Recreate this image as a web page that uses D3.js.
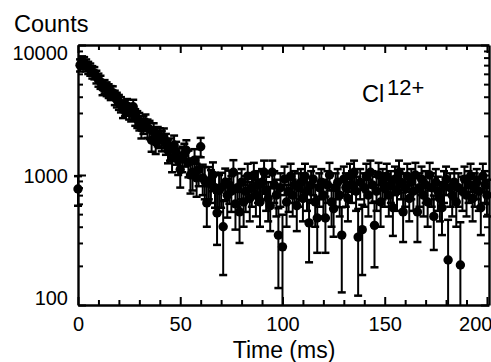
<!DOCTYPE html>
<html>
<head>
<meta charset="utf-8">
<script src="https://cdn.jsdelivr.net/npm/d3@7"></script>
<style>
  body { margin: 0; background: #fff; }
  svg { display: block; font-family: "Liberation Sans", Arial, sans-serif; }
</style>
</head>
<body>
<div class="chart"></div>
<script>
const width = 491;
const height = 362;
const margin = { top: 45, bottom: 57, left: 78, right: 2 };

// counts per 1 ms bin, t = 0 .. 200 ms
const counts = [
  780, 7000, 7400, 7300, 7000, 6700, 6500, 6200, 6100, 5700,
  5400, 5200, 4700, 4800, 4600, 4450, 4300, 4300, 3950, 3800,
  3650, 3500, 3200, 3300, 3400, 3100, 3000, 3350, 2800, 2700,
  2600, 2300, 2450, 2550, 2300, 2250, 1850, 2150, 1800, 2000,
  1950, 1850, 1950, 1750, 1550, 1600, 1350, 1700, 1500, 1300,
  1100, 1350, 1450, 1550, 1250, 1000, 1050, 1300, 950, 1100,
  1650, 950, 900, 610, 900, 850, 1000, 800, 510, 760,
  800, 400, 880, 700, 840, 750, 1050, 600, 800, 520,
  880, 620, 750, 980, 660, 800, 1000, 700, 840, 620,
  880, 1050, 750, 660, 580, 1050, 840, 700, 345, 800,
  280, 930, 620, 750, 980, 700, 840, 580, 800, 880,
  660, 980, 750, 428, 840, 930, 620, 467, 800, 880,
  700, 467, 840, 1000, 620, 550, 800, 880, 700, 345,
  930, 800, 660, 980, 840, 1050, 750, 333, 880, 380,
  800, 980, 700, 1050, 840, 410, 750, 1000, 620, 880,
  800, 980, 700, 840, 560, 930, 750, 1050, 880, 520,
  800, 980, 660, 880, 750, 1000, 520, 800, 930, 700,
  840, 620, 1000, 800, 480, 880, 750, 660, 560, 840,
  930, 222, 800, 700, 880, 620, 800, 203, 750, 930,
  700, 840, 980, 660, 800, 880, 750, 560, 980, 840,
  700
];

const errors = [
  200, 750, 780, 770, 740, 720, 700, 680, 660, 640,
  620, 600, 590, 570, 560, 540, 530, 510, 500, 490,
  480, 470, 460, 450, 440, 430, 420, 440, 410, 400,
  400, 390, 380, 370, 370, 360, 340, 350, 350, 340,
  340, 330, 330, 320, 320, 310, 300, 310, 300, 300,
  300, 300, 290, 300, 290, 280, 290, 280, 270, 280,
  280, 250, 250, 210, 250, 240, 250, 240, 220, 240,
  240, 230, 240, 230, 240, 230, 250, 220, 230, 220,
  230, 220, 230, 240, 220, 230, 240, 220, 230, 220,
  230, 240, 220, 220, 210, 240, 230, 220, 210, 230,
  215, 230, 220, 230, 240, 220, 230, 210, 230, 230,
  220, 240, 220, 215, 230, 230, 220, 215, 230, 230,
  220, 215, 230, 240, 220, 215, 230, 230, 220, 220,
  230, 230, 220, 240, 230, 240, 220, 215, 230, 210,
  230, 240, 220, 240, 230, 215, 220, 240, 220, 230,
  230, 240, 220, 230, 220, 230, 220, 240, 230, 215,
  230, 240, 220, 230, 220, 240, 215, 230, 230, 220,
  230, 220, 240, 230, 215, 230, 220, 220, 215, 230,
  230, 230, 230, 220, 230, 220, 230, 230, 220, 230,
  220, 230, 240, 220, 230, 230, 220, 215, 240, 230,
  220
];

const times = d3.range(counts.length); // ms
const xMajor = [0, 50, 100, 150, 200];
const xMinor = [10, 20, 30, 40, 60, 70, 80, 90, 110, 120, 130, 140, 160, 170, 180, 190];
const yMajor = [100, 1000, 10000];
const yMinor = [200, 300, 400, 500, 600, 700, 800, 900, 2000, 3000, 4000, 5000, 6000, 7000, 8000, 9000];

const data = times.map((t, i) => ({ t: t, v: counts[i], e: errors[i] }));

const xScale = d3.scaleLinear()
    .domain([0, 201])
    .range([margin.left, width - margin.right]);

const yScale = d3.scaleLog()
    .domain([100, 10000])
    .range([height - margin.bottom, margin.top])
    .clamp(true);

const svg = d3.select("div.chart")
    .append("svg")
    .attr("width", width)
    .attr("height", height);

// error bars
const bars = svg.append("g")
    .attr("class", "errors")
    .attr("stroke", "#000")
    .attr("stroke-width", 2);

bars.selectAll("line.bar")
    .data(data)
    .join("line")
    .attr("class", "bar")
    .attr("x1", d => xScale(d.t))
    .attr("x2", d => xScale(d.t))
    .attr("y1", d => yScale(Math.max(d.v - d.e, 1)))
    .attr("y2", d => yScale(d.v + d.e));

// caps (lower cap dropped when the bar runs off the axis)
bars.selectAll("line.capHi")
    .data(data)
    .join("line")
    .attr("class", "capHi")
    .attr("x1", d => xScale(d.t) - 4)
    .attr("x2", d => xScale(d.t) + 4)
    .attr("y1", d => yScale(d.v + d.e))
    .attr("y2", d => yScale(d.v + d.e))
    .attr("stroke-width", 2.5);

bars.selectAll("line.capLo")
    .data(data.filter(d => d.v - d.e > 100))
    .join("line")
    .attr("class", "capLo")
    .attr("x1", d => xScale(d.t) - 4)
    .attr("x2", d => xScale(d.t) + 4)
    .attr("y1", d => yScale(d.v - d.e))
    .attr("y2", d => yScale(d.v - d.e))
    .attr("stroke-width", 2.5);

// points
svg.append("g")
    .attr("class", "points")
    .attr("fill", "#000")
    .selectAll("circle")
    .data(data)
    .join("circle")
    .attr("cx", d => xScale(d.t))
    .attr("cy", d => yScale(d.v))
    .attr("r", 4.7);

// axes, ticks pointing inward on all four sides
const x0 = margin.left;
const x1 = width - margin.right;
const y0 = height - margin.bottom;
const y1 = margin.top;

function styleAxis(g) {
    g.select(".domain").attr("stroke-width", 2.4);
    g.selectAll(".tick line").attr("stroke-width", 2);
    g.selectAll("text").attr("fill", "#000").attr("font-size", 20);
}

// bottom
svg.append("g")
    .attr("transform", `translate(0,${y0})`)
    .call(d3.axisBottom(xScale).tickValues(xMajor).tickSize(-8).tickSizeOuter(0).tickPadding(12))
    .call(styleAxis)
    .call(g => g.selectAll(".tick text").filter(d => d === 200)
        .attr("text-anchor", "end").attr("x", 5));
svg.append("g")
    .attr("transform", `translate(0,${y0})`)
    .call(d3.axisBottom(xScale).tickValues(xMinor).tickSize(-5).tickFormat("").tickSizeOuter(0))
    .call(styleAxis)
    .call(g => g.select(".domain").remove());

// top
svg.append("g")
    .attr("transform", `translate(0,${y1})`)
    .call(d3.axisTop(xScale).tickValues(xMajor).tickSize(-8).tickFormat("").tickSizeOuter(0))
    .call(styleAxis);
svg.append("g")
    .attr("transform", `translate(0,${y1})`)
    .call(d3.axisTop(xScale).tickValues(xMinor).tickSize(-5).tickFormat("").tickSizeOuter(0))
    .call(styleAxis)
    .call(g => g.select(".domain").remove());

// left
const yLabelShift = { 100: -7, 1000: 1, 10000: 8 };
svg.append("g")
    .attr("transform", `translate(${x0},0)`)
    .call(d3.axisLeft(yScale).tickValues(yMajor).tickFormat(d3.format("d")).tickSize(-8).tickSizeOuter(0).tickPadding(10))
    .call(styleAxis)
    .call(g => g.selectAll(".tick text").attr("y", d => yLabelShift[d]));
svg.append("g")
    .attr("transform", `translate(${x0},0)`)
    .call(d3.axisLeft(yScale).tickValues(yMinor).tickSize(-5).tickFormat("").tickSizeOuter(0))
    .call(styleAxis)
    .call(g => g.select(".domain").remove());

// right
svg.append("g")
    .attr("transform", `translate(${x1},0)`)
    .call(d3.axisRight(yScale).tickValues(yMajor).tickSize(-8).tickFormat("").tickSizeOuter(0))
    .call(styleAxis);
svg.append("g")
    .attr("transform", `translate(${x1},0)`)
    .call(d3.axisRight(yScale).tickValues(yMinor).tickSize(-5).tickFormat("").tickSizeOuter(0))
    .call(styleAxis)
    .call(g => g.select(".domain").remove());

// titles
svg.append("text")
    .attr("x", 14)
    .attr("y", 32)
    .attr("font-size", 23.5)
    .text("Counts");

svg.append("text")
    .attr("x", 284)
    .attr("y", 358)
    .attr("text-anchor", "middle")
    .attr("font-size", 23)
    .text("Time (ms)");

svg.append("text")
    .attr("x", 362)
    .attr("y", 102)
    .attr("font-size", 23.5)
    .text("Cl");
svg.append("text")
    .attr("x", 387)
    .attr("y", 95)
    .attr("font-size", 22)
    .text("12+");
</script>
</body>
</html>
